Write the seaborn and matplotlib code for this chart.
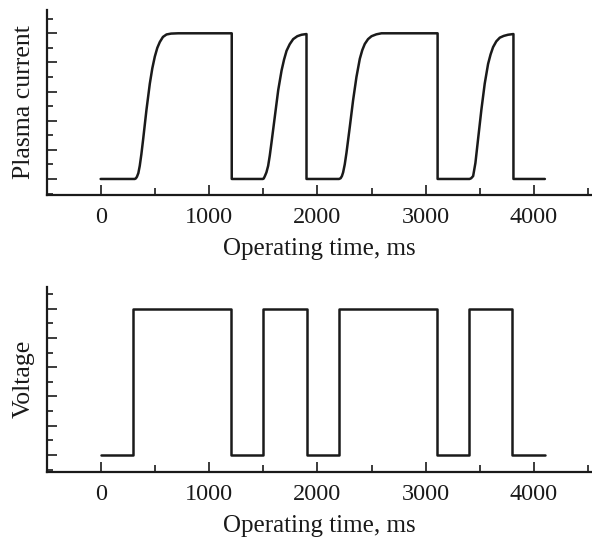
import matplotlib
matplotlib.use("Agg")
import matplotlib.pyplot as plt
import seaborn as sns
import pandas as pd
from matplotlib.ticker import MultipleLocator, NullFormatter

# ---- data ----
current_t = [0, 315, 325, 335, 348, 361, 376, 392, 423, 454, 477, 500, 523, 546, 575, 608, 650, 716, 1210, 1210,
             1497, 1505, 1516, 1530, 1546, 1561, 1577, 1608, 1639, 1670, 1693, 1716, 1745, 1777, 1815, 1854, 1900, 1900,
             2200, 2215, 2227, 2238, 2253, 2269, 2300, 2330, 2361, 2392, 2415, 2438, 2468, 2500, 2545, 2592, 2680, 3110, 3110,
             3405, 3420, 3438, 3459, 3483, 3514, 3545, 3576, 3599, 3622, 3652, 3684, 3720, 3760, 3810, 3810, 4100]
current_v = [0, 0, 0.04, 0.15, 0.4, 0.9, 1.7, 2.7, 4.75, 6.55, 7.6, 8.4, 9.0, 9.4, 9.75, 9.92, 9.98, 10, 10, 0,
             0, 0.03, 0.2, 0.45, 0.9, 1.6, 2.5, 4.3, 6.1, 7.45, 8.2, 8.8, 9.25, 9.6, 9.8, 9.9, 9.95, 0,
             0, 0.05, 0.2, 0.45, 1.0, 1.8, 3.6, 5.4, 7.0, 8.25, 8.85, 9.27, 9.6, 9.8, 9.93, 10, 10, 10, 0,
             0, 0.05, 0.2, 1.1, 2.7, 4.75, 6.55, 7.9, 8.55, 9.05, 9.45, 9.7, 9.82, 9.9, 9.95, 0, 0]

voltage_t = [0, 300, 300, 1200, 1200, 1500, 1500, 1900, 1900, 2200, 2200,
             3100, 3100, 3400, 3400, 3800, 3800, 4100]
voltage_v = [0, 0, 10, 10, 0, 0, 10, 10, 0, 0, 10, 10, 0, 0, 10, 10, 0, 0]

x_ticks = [0, 1000, 2000, 3000, 4000]
x_label = "Operating time, ms"
y_labels = ["Plasma current", "Voltage"]

sns.set_style("ticks")
plt.rcParams["font.family"] = ["Liberation Serif", "DejaVu Serif"]

fig = plt.figure(figsize=(5.92, 5.40), dpi=100)
ax1 = fig.add_axes([0.0794, 0.6389, 0.9206, 0.3426])
ax2 = fig.add_axes([0.0794, 0.1265, 0.9206, 0.3426])

df_c = pd.DataFrame({"t": current_t, "v": current_v})
df_v = pd.DataFrame({"t": voltage_t, "v": voltage_v})

line_color = "#1a1a1a"
sns.lineplot(data=df_c, x="t", y="v", ax=ax1, estimator=None, sort=False,
             color=line_color, linewidth=1.8)
sns.lineplot(data=df_v, x="t", y="v", ax=ax2, estimator=None, sort=False,
             color=line_color, linewidth=1.8)

for ax, yl, ylim in [(ax1, y_labels[0], (-1.1, 11.6)), (ax2, y_labels[1], (-1.14, 11.5))]:
    ax.set_xlim(-495, 4535)
    ax.set_ylim(*ylim)
    ax.set_xticks(x_ticks)
    ax.set_xticklabels([str(v) for v in x_ticks])
    ax.xaxis.set_minor_locator(MultipleLocator(500))
    ax.yaxis.set_major_locator(MultipleLocator(2))
    ax.yaxis.set_minor_locator(MultipleLocator(1))
    ax.yaxis.set_major_formatter(NullFormatter())
    ax.tick_params(axis="both", which="major", direction="in", length=7,
                   width=1.2, color=line_color, labelsize=17.5, pad=9)
    ax.tick_params(axis="both", which="minor", direction="in", length=4,
                   width=1.2, color=line_color)
    ax.tick_params(axis="x", which="major", length=7.5)
    ax.tick_params(axis="x", which="minor", length=5)
    for s in ["top", "right"]:
        ax.spines[s].set_visible(False)
    for s in ["left", "bottom"]:
        ax.spines[s].set_linewidth(1.6)
        ax.spines[s].set_color(line_color)
    ax.set_xlabel(x_label, fontsize=18, labelpad=7, color=line_color)
    ax.set_ylabel(yl, fontsize=18.5, labelpad=0, color=line_color)
    for lab in ax.get_xticklabels():
        lab.set_color(line_color)

fig.savefig("out.png", dpi=100)
